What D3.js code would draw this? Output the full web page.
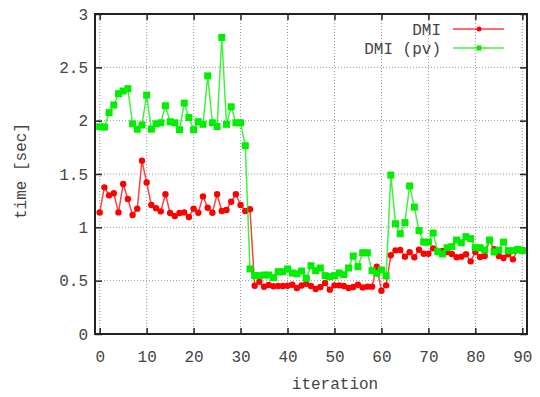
<!DOCTYPE html>
<html>
<head>
<meta charset="utf-8">
<script src="https://cdn.jsdelivr.net/npm/d3@7"></script>
<style>
  html, body { margin: 0; padding: 0; background: #fff; }
  svg text { font-family: "Liberation Mono", "DejaVu Sans Mono", monospace; fill: #444; }
</style>
</head>
<body>
<div id="chart"></div>
<script>
// values, iteration 0..90
const dmi = [1.14, 1.375, 1.30, 1.32, 1.14, 1.406, 1.265, 1.115, 1.175, 1.625,
  1.42, 1.21, 1.18, 1.15, 1.31, 1.134, 1.106, 1.134, 1.14, 1.097,
  1.175, 1.137, 1.29, 1.184, 1.137, 1.31, 1.153, 1.162, 1.24, 1.31,
  1.21, 1.153, 1.17, 0.453, 0.49, 0.443, 0.46, 0.447, 0.45, 0.45,
  0.453, 0.462, 0.431, 0.455, 0.47, 0.45, 0.422, 0.44, 0.478, 0.416,
  0.456, 0.456, 0.45, 0.431, 0.44, 0.462, 0.437, 0.444, 0.444, 0.631,
  0.406, 0.456, 0.738, 0.784, 0.787, 0.725, 0.766, 0.719, 0.79, 0.753,
  0.753, 0.803, 0.772, 0.778, 0.769, 0.75, 0.719, 0.725, 0.747, 0.681,
  0.769, 0.722, 0.731, 0.881, 0.794, 0.731, 0.712, 0.747, 0.70, 0.787,
  0.787];
const dmiPv = [1.943, 1.94, 2.075, 2.147, 2.253, 2.278, 2.30, 1.97, 1.92, 1.96,
  2.24, 1.92, 1.97, 1.98, 2.14, 1.99, 1.98, 1.915, 2.165, 2.03,
  1.915, 1.99, 1.966, 2.42, 1.98, 1.945, 2.78, 1.966, 2.13, 1.98,
  1.98, 1.765, 0.61, 0.547, 0.547, 0.553, 0.553, 0.528, 0.584, 0.584,
  0.61, 0.572, 0.565, 0.59, 0.522, 0.64, 0.594, 0.619, 0.547, 0.537,
  0.547, 0.572, 0.556, 0.619, 0.731, 0.631, 0.762, 0.762, 0.594, 0.569,
  0.60, 0.544, 1.49, 1.034, 0.94, 1.044, 1.388, 1.19, 0.969, 0.862,
  0.862, 0.947, 0.772, 0.75, 0.809, 0.819, 0.881, 0.856, 0.912, 0.894,
  0.809, 0.809, 0.787, 0.881, 0.769, 0.787, 0.862, 0.781, 0.781, 0.794,
  0.781];
const xTicks = [0, 10, 20, 30, 40, 50, 60, 70, 80, 90];
const yTicks = [0, 0.5, 1, 1.5, 2, 2.5, 3];
const seriesNames = ['DMI', 'DMI (pv)'];

const W = 540, H = 397;
const margin = {top: 14, right: 13, bottom: 63, left: 95};
const width = W - margin.left - margin.right,
  height = H - margin.top - margin.bottom;

const x = d3.scaleLinear().domain([-1, 91]).range([0, width]);
const y = d3.scaleLinear().domain([0, 3]).range([height, 0]);

const svg = d3.select('#chart').append('svg')
  .attr('width', W)
  .attr('height', H)
  .append('g')
  .attr('transform', `translate(${margin.left},${margin.top})`);

// grid
svg.append('g').selectAll('line').data(xTicks).enter().append('line')
  .attr('x1', d => x(d)).attr('x2', d => x(d))
  .attr('y1', 0).attr('y2', height)
  .style('stroke', '#999').style('stroke-width', 1).style('stroke-dasharray', '1,2');
svg.append('g').selectAll('line').data(yTicks).enter().append('line')
  .attr('x1', 0).attr('x2', width)
  .attr('y1', d => y(d)).attr('y2', d => y(d))
  .style('stroke', '#999').style('stroke-width', 1).style('stroke-dasharray', '1,2');

// axes, ticks pointing inward on all four sides
const fs = '16px';
const xAxis = svg.append('g')
  .attr('transform', `translate(0,${height})`)
  .call(d3.axisBottom(x).tickValues(xTicks).tickSizeInner(-6).tickSizeOuter(0).tickPadding(14));
const yAxis = svg.append('g')
  .call(d3.axisLeft(y).tickValues(yTicks).tickSizeInner(-7).tickSizeOuter(0).tickPadding(14)
    .tickFormat(d3.format('')));
svg.append('g')
  .call(d3.axisTop(x).tickValues(xTicks).tickSizeInner(-6).tickSizeOuter(0).tickFormat(''));
svg.append('g')
  .attr('transform', `translate(${width},0)`)
  .call(d3.axisRight(y).tickValues(yTicks).tickSizeInner(-7).tickSizeOuter(0).tickFormat(''));
svg.selectAll('.domain').remove();
svg.selectAll('.tick line').style('stroke', '#222').style('stroke-width', 1.5);
xAxis.selectAll('text').style('font-size', fs).attr('dy', '0.85em');
yAxis.selectAll('text').style('font-size', fs).attr('x', -7);

svg.append('rect')
  .attr('width', width).attr('height', height)
  .style('fill', 'none').style('stroke', '#222').style('stroke-width', 2);

// axis titles
svg.append('text')
  .attr('x', 335 - margin.left)
  .attr('y', 383 - margin.top)
  .attr('dy', '0.35em')
  .style('text-anchor', 'middle')
  .style('font-size', fs)
  .text('iteration');
svg.append('text')
  .attr('transform', `translate(${20 - margin.left},${171 - margin.top}) rotate(-90)`)
  .attr('dy', '0.35em')
  .style('text-anchor', 'middle')
  .style('font-size', fs)
  .text('time [sec]');

const line = d3.line()
  .x((d, i) => x(i))
  .y(d => y(d));

const red = '#ff0000', green = '#00ee00';

// DMI
svg.append('path').datum(dmi)
  .attr('d', line)
  .style('fill', 'none').style('stroke', red).style('stroke-width', 1.5).style('opacity', 0.75);
svg.append('g').selectAll('circle').data(dmi).enter().append('circle')
  .attr('cx', (d, i) => x(i)).attr('cy', d => y(d)).attr('r', 3.2)
  .style('fill', red);

// DMI (pv)
svg.append('path').datum(dmiPv)
  .attr('d', line)
  .style('fill', 'none').style('stroke', green).style('stroke-width', 1.5).style('opacity', 0.75);
svg.append('g').selectAll('rect').data(dmiPv).enter().append('rect')
  .attr('x', (d, i) => x(i) - 3.5).attr('y', d => y(d) - 3.5)
  .attr('width', 7).attr('height', 7)
  .style('fill', green);

// legend
const legend = svg.append('g')
  .attr('transform', `translate(${441 - margin.left},${29 - margin.top})`);
seriesNames.forEach((name, k) => {
  const g = legend.append('g').attr('transform', `translate(0,${k * 19})`);
  g.append('text').attr('x', 0).attr('dy', '0.35em')
    .style('text-anchor', 'end').style('font-size', fs).text(name);
  g.append('line').attr('x1', 12).attr('x2', 63)
    .style('stroke', k === 0 ? red : green).style('stroke-width', 1.5).style('opacity', 0.75);
  if (k === 0) {
    g.append('circle').attr('cx', 38).attr('r', 2.5).style('fill', red);
  } else {
    g.append('rect').attr('x', 35.5).attr('y', -2.5).attr('width', 5).attr('height', 5).style('fill', green);
  }
});
</script>
</body>
</html>
